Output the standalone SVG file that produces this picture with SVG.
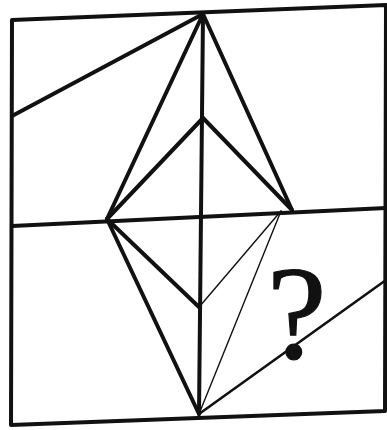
<svg xmlns="http://www.w3.org/2000/svg" width="387" height="430" viewBox="0 0 387 430">
<style>
.thick{stroke:#111;stroke-width:4;stroke-linecap:round;stroke-linejoin:round;fill:none}
.mid{stroke:#111;stroke-width:2.6;stroke-linecap:round;fill:none}
.thin{stroke:#111;stroke-width:1.4;stroke-linecap:round;fill:none}
.q{font-family:"Liberation Serif",serif;font-size:134px;fill:#111;stroke:#111;stroke-width:1.2}
</style>
<rect width="387" height="430" fill="#fff"/>
<g id="frame">
<polygon class="thick" points="12,20 386,5 385,411 11,425"/>
<line class="thick" x1="12" y1="226" x2="386" y2="208"/>
</g>
<g id="connectors">
<line class="thick" x1="12" y1="116" x2="203" y2="14"/>
<line class="thick" x1="203" y1="14" x2="199" y2="414"/>
<line class="thick" x1="203" y1="14" x2="107" y2="219"/>
<line class="thick" x1="203" y1="14" x2="292" y2="210"/>
<line class="thick" x1="107" y1="219" x2="203" y2="118"/>
<line class="thick" x1="203" y1="118" x2="292" y2="210"/>
<line class="thick" x1="107" y1="219" x2="199" y2="414"/>
<line class="thick" x1="107" y1="219" x2="200" y2="308"/>
<line class="thin" x1="200" y1="306" x2="281" y2="211"/>
<line class="thin" x1="199" y1="414" x2="281" y2="211"/>
<line class="mid" x1="199" y1="414" x2="386" y2="280"/>
</g>
<g id="question">
<text class="q" x="267" y="358">?</text>
</g>
</svg>
